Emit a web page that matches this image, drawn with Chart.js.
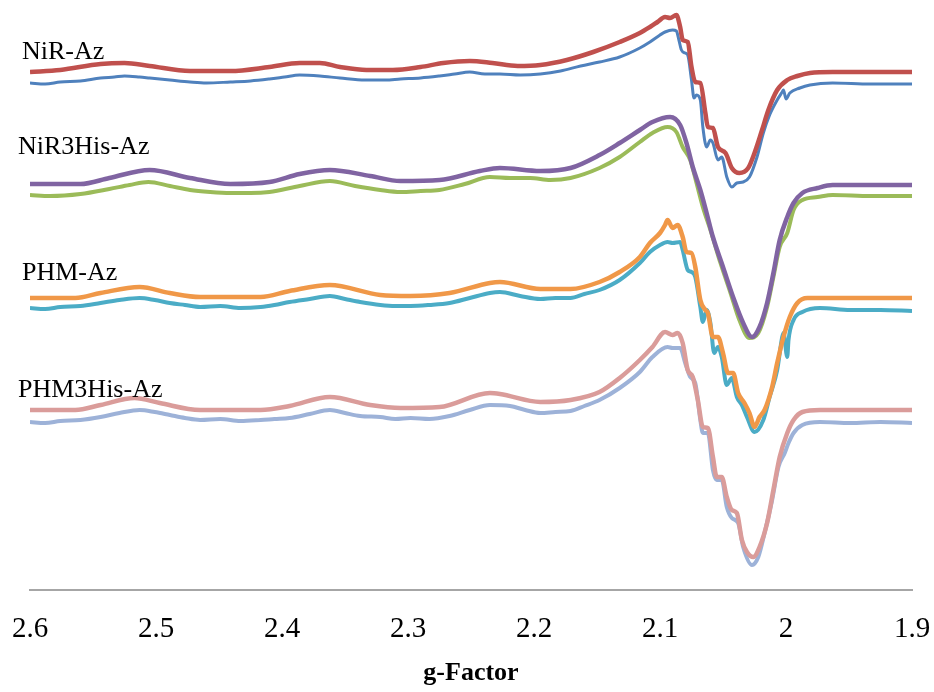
<!DOCTYPE html>
<html>
<head>
<meta charset="utf-8">
<title>EPR spectra</title>
<script src="https://cdn.jsdelivr.net/npm/chart.js@4.4.1/dist/chart.umd.min.js"></script>
<style>
  html, body { margin: 0; padding: 0; background: #fff; }
  #eprChart { display: block; }
</style>
</head>
<body>
<canvas id="eprChart" width="934" height="692"></canvas>
<script>
// g-factor positions and offset intensities (a.u.)
const nirSimG = [2.600,2.576,2.544,2.525,2.505,2.473,2.441,2.410,2.386,2.370,2.354,2.333,2.312,2.290,2.272,2.251,2.233,2.213,2.195,2.174,2.153,2.132,2.116,2.108,2.102,2.096,2.092,2.087,2.084,2.082,2.078,2.075,2.072,2.068,2.064,2.062,2.058,2.054,2.048,2.043,2.037,2.030,2.025,2.019,2.014,2.007,1.999,1.991,1.981,1.963,1.900];
const nirSimY = [518,520,526,527,524,519,519,523,527,527,523,520,520,523,527,529,527,524,525,530,538,548,557,563,568,573,572,575,563,550,548,523,508,507,477,463,462,443,437,422,417,422,437,460,480,500,510,514,517,518,518];

const nirExpG = [2.600,2.588,2.576,2.560,2.544,2.533,2.525,2.513,2.505,2.489,2.473,2.460,2.441,2.425,2.410,2.398,2.386,2.370,2.354,2.334,2.318,2.306,2.290,2.275,2.263,2.251,2.239,2.227,2.211,2.195,2.179,2.163,2.148,2.132,2.116,2.108,2.100,2.096,2.090,2.087,2.085,2.083,2.080,2.078,2.075,2.073,2.071,2.068,2.066,2.063,2.060,2.058,2.054,2.051,2.047,2.043,2.039,2.034,2.029,2.023,2.018,2.013,2.007,2.003,2.002,2.000,1.997,1.989,1.981,1.963,1.933,1.900];
const nirExpY = [507,506,508,509,512,513,514,513,512,510,508,507,508,509,511,513,515,514,512,510,510,511,512,514,516,518,516,516,515,516,519,524,528,533,542,548,555,558,560,559,550,540,537,535,510,492,495,490,463,443,450,447,430,433,413,403,407,408,413,433,457,475,490,498,500,491,497,502,505,507,506,506];

const nir3SimG = [2.600,2.560,2.537,2.505,2.473,2.441,2.410,2.386,2.362,2.330,2.306,2.275,2.243,2.227,2.195,2.171,2.148,2.132,2.116,2.106,2.092,2.084,2.079,2.074,2.068,2.063,2.058,2.050,2.042,2.034,2.027,2.021,2.015,2.010,2.005,1.999,1.994,1.987,1.975,1.963,1.900];
const nir3SimY = [406,406,412,420,412,406,408,416,420,414,409,410,419,422,419,422,435,447,460,468,473,465,447,423,400,377,353,323,293,267,253,263,287,317,350,373,387,397,402,405,405];

const nir3ExpG = [2.600,2.584,2.560,2.537,2.521,2.506,2.489,2.473,2.457,2.441,2.425,2.410,2.386,2.362,2.342,2.322,2.306,2.290,2.275,2.255,2.235,2.219,2.203,2.187,2.171,2.148,2.132,2.116,2.106,2.094,2.087,2.082,2.076,2.071,2.066,2.060,2.052,2.044,2.037,2.029,2.022,2.015,2.010,2.005,1.999,1.994,1.987,1.975,1.963,1.933,1.900];
const nir3ExpY = [395,394,396,401,405,408,404,400,398,397,397,398,404,409,404,400,398,399,400,406,413,412,412,410,412,422,433,448,457,463,458,443,430,407,383,360,327,297,270,252,257,283,313,343,357,380,390,393,395,394,394];

const phmSimG = [2.600,2.564,2.544,2.513,2.489,2.465,2.417,2.394,2.362,2.322,2.298,2.267,2.235,2.227,2.195,2.171,2.148,2.132,2.116,2.108,2.100,2.096,2.094,2.090,2.086,2.082,2.079,2.075,2.072,2.068,2.064,2.062,2.058,2.054,2.050,2.046,2.042,2.038,2.033,2.029,2.025,2.021,2.017,2.011,2.007,2.002,1.997,1.991,1.983,1.973,1.900];
const phmSimY = [292,292,297,303,297,293,293,299,305,295,294,297,307,308,301,301,308,318,333,347,357,365,370,362,365,353,338,337,323,290,280,277,253,253,237,217,217,197,187,177,163,173,180,203,227,253,273,287,292,292,292];

const phmExpG = [2.600,2.588,2.576,2.560,2.544,2.529,2.513,2.501,2.489,2.477,2.465,2.449,2.433,2.417,2.406,2.394,2.378,2.362,2.350,2.338,2.322,2.310,2.298,2.283,2.267,2.251,2.235,2.227,2.211,2.195,2.183,2.171,2.160,2.148,2.132,2.116,2.108,2.100,2.094,2.090,2.084,2.082,2.078,2.075,2.072,2.068,2.066,2.063,2.060,2.057,2.054,2.051,2.047,2.043,2.039,2.035,2.031,2.025,2.018,2.013,2.007,2.003,2.002,1.999,1.998,1.994,1.987,1.973,1.949,1.925,1.900];
const phmExpY = [282,281,283,284,287,290,292,290,287,285,283,284,282,283,285,288,291,294,291,288,285,284,284,285,287,292,297,298,294,291,292,292,296,300,310,327,338,345,348,347,348,340,320,318,313,283,268,280,267,237,243,233,205,212,193,185,173,158,170,193,220,253,257,233,250,270,278,282,280,280,279];

const phm3SimG = [2.600,2.564,2.544,2.517,2.497,2.465,2.417,2.394,2.362,2.330,2.306,2.275,2.235,2.227,2.195,2.171,2.148,2.132,2.116,2.106,2.096,2.090,2.086,2.082,2.078,2.074,2.070,2.066,2.062,2.058,2.055,2.051,2.047,2.043,2.039,2.035,2.031,2.026,2.021,2.015,2.010,2.005,1.999,1.994,1.987,1.973,1.900];
const phm3SimY = [180,180,185,192,187,180,180,184,193,185,182,183,197,196,188,190,198,212,230,243,258,255,257,247,220,213,190,163,162,133,113,113,93,80,77,50,38,33,43,67,100,133,157,170,178,180,180];

const phm3ExpG = [2.600,2.588,2.576,2.560,2.544,2.529,2.513,2.501,2.489,2.477,2.465,2.449,2.433,2.417,2.406,2.394,2.378,2.362,2.350,2.338,2.322,2.310,2.298,2.283,2.267,2.251,2.235,2.219,2.207,2.195,2.183,2.171,2.160,2.148,2.132,2.116,2.106,2.094,2.090,2.084,2.080,2.076,2.072,2.068,2.066,2.062,2.058,2.055,2.051,2.047,2.043,2.038,2.034,2.027,2.022,2.017,2.011,2.006,2.001,1.998,1.994,1.987,1.973,1.949,1.925,1.900];
const phm3ExpY = [168,167,169,170,173,177,180,178,175,172,170,171,169,170,171,172,176,180,177,174,173,171,172,171,174,180,185,184,180,177,178,179,184,190,202,218,233,243,242,242,227,213,207,170,157,157,120,110,110,83,72,67,43,25,33,57,90,123,137,147,157,165,168,167,168,167];

const sampleNames = ["NiR-Az", "NiR3His-Az", "PHM-Az", "PHM3His-Az"];
const nameLevels = [538, 443, 317, 200];   // intensity where each name sits
const gTicks = [2.6, 2.5, 2.4, 2.3, 2.2, 2.1, 2.0, 1.9];

function toPoints(gs, ys) {
    return gs.map((g, i) => ({ x: g, y: ys[i] }));
}

function trace(label, gs, ys, color, width) {
    return {
        label: label,
        data: toPoints(gs, ys),
        borderColor: color,
        backgroundColor: color,
        borderWidth: width,
        pointRadius: 0,
        cubicInterpolationMode: "monotone",
        fill: false
    };
}

// simulated traces first so they are painted over the experimental ones
const datasets = [
    trace("NiR-Az sim", nirSimG, nirSimY, "#C0504D", 4.5),
    trace("NiR3His-Az sim", nir3SimG, nir3SimY, "#8064A2", 4.5),
    trace("PHM-Az sim", phmSimG, phmSimY, "#F09848", 4.5),
    trace("PHM3His-Az sim", phm3SimG, phm3SimY, "#DA9C9A", 4.5),
    trace("NiR-Az exp", nirExpG, nirExpY, "#4F81BD", 3),
    trace("NiR3His-Az exp", nir3ExpG, nir3ExpY, "#9BBB59", 4),
    trace("PHM-Az exp", phmExpG, phmExpY, "#4BACC6", 4),
    trace("PHM3His-Az exp", phm3ExpG, phm3ExpY, "#9DB2D8", 4)
];

const sampleLabels = {
    id: "sampleLabels",
    afterDatasetsDraw(chart) {
        const ctx = chart.ctx;
        const yScale = chart.scales.y;
        const xs = [22, 18, 22, 18];
        ctx.save();
        ctx.font = "26px 'Liberation Serif', 'Times New Roman', serif";
        ctx.fillStyle = "#000";
        ctx.textAlign = "left";
        ctx.textBaseline = "middle";
        sampleNames.forEach((name, i) => {
            ctx.fillText(name, xs[i], yScale.getPixelForValue(nameLevels[i]));
        });
        ctx.restore();
    }
};

const chartConfig = {
    type: "line",
    data: { datasets: datasets },
    options: {
        responsive: false,
        animation: false,
        layout: { padding: { left: 30, right: 22, top: 0, bottom: 0 } },
        plugins: {
            legend: { display: false },
            tooltip: { enabled: false }
        },
        scales: {
            x: {
                type: "linear",
                reverse: true,
                min: 1.9,
                max: 2.6,
                afterBuildTicks: (scale) => {
                    scale.ticks = gTicks.map(v => ({ value: v }));
                },
                afterFit: (scale) => {
                    // keep the plot box fixed: axis line at y=590, x from 30 to 912
                    scale.height = 102;
                    scale.paddingLeft = 0;
                    scale.paddingRight = 0;
                },
                grid: { display: false, drawTicks: false },
                border: { display: true, color: "#A6A6A6", width: 2 },
                ticks: {
                    padding: 22,
                    color: "#000",
                    font: { family: "'Liberation Serif', 'Times New Roman', serif", size: 29 },
                    callback: (v) => String(Math.round(v * 10) / 10)
                },
                title: {
                    display: true,
                    text: "g-Factor",
                    color: "#000",
                    padding: { top: 14, bottom: 3 },
                    font: { family: "'Liberation Serif', 'Times New Roman', serif", size: 26, weight: "bold" }
                }
            },
            y: {
                display: false,
                min: 0,
                max: 590
            }
        }
    },
    plugins: [sampleLabels]
};

const eprChart = new Chart(
    document.getElementById("eprChart"),
    chartConfig
);
</script>
</body>
</html>
